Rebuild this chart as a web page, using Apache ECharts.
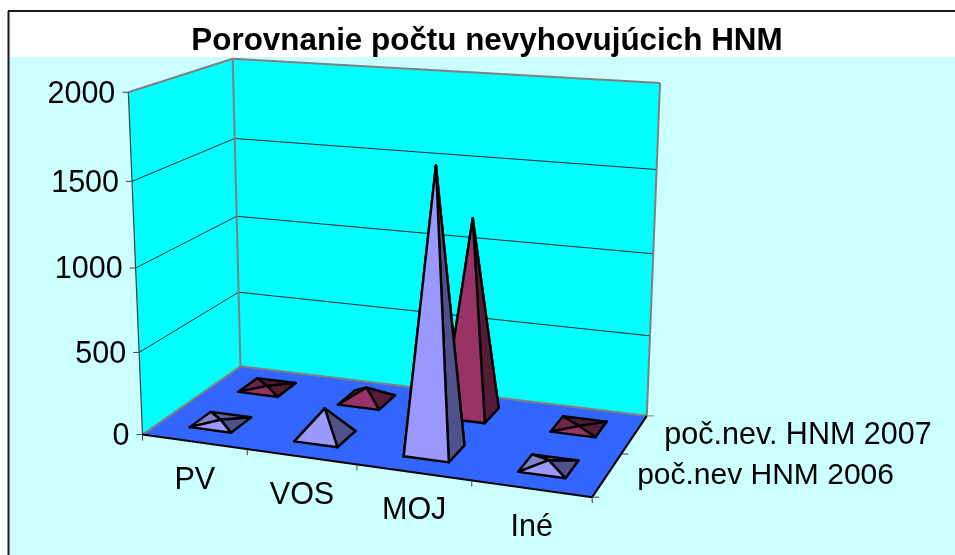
<!DOCTYPE html>
<html><head><meta charset="utf-8">
<style>html,body{margin:0;padding:0;background:#fff}#c{width:955px;height:555px}</style>
<script src="https://cdn.jsdelivr.net/npm/echarts@6/dist/echarts.min.js"></script>
</head><body><div id="c"></div>
<script>
const categories = ['PV','VOS','MOJ','Iné'];
const yTicks = [0,500,1000,1500,2000];
const seriesNames = ['poč.nev HNM 2006','poč.nev. HNM 2007'];
const values2006 = [15,170,1645,35];
const values2007 = [10,80,1200,3];

const FONT = '"Liberation Sans", Arial, sans-serif';
const faces2006 = {back:'#5F5F9F',left:'#8080CC',right:'#50508A',front:'#9999FF'};
const faces2007 = {back:'#4D1A33',left:'#6E2549',right:'#551C38',front:'#993366'};

// Perspective camera fitted to the frame corners: (u along categories, d depth, w value) -> screen
const frameFit = [
 [0,0,0,143,435],[1,0,0,592,497],[1,1,0,647,416],[0,1,0,240,366],
 [0,0,1,128,92],[0,1,1,233,59],[1,1,1,660,83]
];
function solveCamera(){
  const rows=[],rhs=[];
  frameFit.forEach(([u,d,w,sx,sy])=>{
    sx/=1000;sy/=1000;
    rows.push([u,d,w,1,0,0,0,0,-sx*u,-sx*d,-sx*w]);rhs.push(sx);
    rows.push([0,0,0,0,u,d,w,1,-sy*u,-sy*d,-sy*w]);rhs.push(sy);
  });
  const n=11,M=[];
  for(let i=0;i<n;i++){M[i]=[];for(let j=0;j<=n;j++){let s=0;rows.forEach((r,k)=>{s+=r[i]*(j<n?r[j]:rhs[k]);});M[i][j]=s;}}
  for(let i=0;i<n;i++){
    let p=i;for(let k=i+1;k<n;k++)if(Math.abs(M[k][i])>Math.abs(M[p][i]))p=k;
    [M[i],M[p]]=[M[p],M[i]];
    for(let k=0;k<n;k++){if(k===i)continue;const f=M[k][i]/M[i][i];for(let j=i;j<=n;j++)M[k][j]-=f*M[i][j];}
  }
  return M.map((r,i)=>r[n]/r[i]);
}
const cam=solveCamera();
function project(u,d,w){
  const q=cam[8]*u+cam[9]*d+cam[10]*w+1;
  return [1000*(cam[0]*u+cam[1]*d+cam[2]*w+cam[3])/q,1000*(cam[4]*u+cam[5]*d+cam[6]*w+cam[7])/q];
}
// normalise library coordinates to the unit box
function norm(params,api,cat,val){
  const c=api.coord([cat,val]),s=params.coordSys;
  return [(c[0]-s.x)/s.width,(s.y+s.height-c[1])/s.height];
}
function poly(pts,fill,stroke,lw){return {type:'polygon',shape:{points:pts},style:{fill:fill||'none',stroke:stroke||'none',lineWidth:lw||0,lineJoin:'round'}};}
function line(a,b,stroke,lw){return {type:'line',shape:{x1:a[0],y1:a[1],x2:b[0],y2:b[1]},style:{stroke:stroke,lineWidth:lw}};}
function text(x,y,t,align,size){return {type:'text',x:x,y:y,style:{text:t,fill:'#000',font:size+'px '+FONT,textAlign:align,textVerticalAlign:'middle'}};}

function renderFrame(params,api){
  const ch=[];
  const P=project;
  ch.push(poly([P(0,0,0),P(0,1,0),P(0,1,1),P(0,0,1)],'#00FFFF'));
  ch.push(poly([P(0,1,0),P(1,1,0),P(1,1,1),P(0,1,1)],'#00FFFF'));
  yTicks.forEach(v=>{
    const w=norm(params,api,0,v)[1];
    if(v>0&&v<2000){
      ch.push(line(P(0,0,w),P(0,1,w),'#0A2A2A',1));
      ch.push(line(P(0,1,w),P(1,1,w),'#0A2A2A',1));
    }
    const a=P(0,0,w);
    ch.push(line([a[0]-6,a[1]],a,'#404040',1));
    ch.push(text(a[0]-13,a[1]+2,String(v),'right',30.5));
  });
  ch.push(poly([P(0,0,0),P(1,0,0),P(1,1,0),P(0,1,0)],'#3366FF'));
  const gray='#808080';
  ch.push(line(P(0,0,1),P(0,1,1),gray,2));
  ch.push(line(P(0,1,1),P(1,1,1),gray,2));
  ch.push(line(P(0,1,0),P(0,1,1),gray,2));
  ch.push(line(P(1,1,0),P(1,1,1),gray,2));
  ch.push(line(P(0,0,0),P(0,1,0),gray,2));
  ch.push(line(P(0,1,0),P(1,1,0),gray,2));
  ch.push(line(P(0,0,0),P(0,0,1),'#404040',1.2));
  ch.push(line(P(0,0,0),P(1,0,0),'#000',2));
  ch.push(line(P(1,0,0),P(1,1,0),'#000',2));
  for(let i=0;i<=categories.length;i++){
    const a=P(i/categories.length,0,0);
    ch.push(line(a,[a[0],a[1]+6],'#404040',1));
  }
  [0,.5,1].forEach(d=>{const a=P(1,d,0);ch.push(line(a,[a[0]+7,a[1]],d===1?gray:'#404040',1));});
  categories.forEach((c,i)=>{
    const a=P(norm(params,api,i,0)[0],0,0);
    ch.push(text(a[0]+0.5,a[1]+38.5,c,'center',30.5));
  });
  seriesNames.forEach((n,i)=>{
    const a=P(1,i===0?.25:.75,0);
    ch.push(text(a[0]+30,a[1]+1,n,'left',i===0?30:30.5));
  });
  return {type:'group',children:ch};
}
function pyramidRenderer(depth,faces){
  return function(params,api){
    const cat=api.value(0),val=api.value(1);
    const [u,w]=norm(params,api,cat,val);
    const hu=.40/categories.length/2,hd=.105;
    const P=project;
    const fl=P(u-hu,depth-hd,0),fr=P(u+hu,depth-hd,0),br=P(u+hu,depth+hd,0),bl=P(u-hu,depth+hd,0),top=P(u,depth,w);
    const k='#000',lw=2.4;
    return {type:'group',children:[
      poly([bl,br,top],faces.back,k,lw),
      poly([fl,bl,top],faces.left,k,lw),
      poly([fr,br,top],faces.right,k,lw),
      poly([fl,fr,top],faces.front,k,lw)
    ]};
  };
}
const chart=echarts.init(document.getElementById('c'),null,{renderer:'canvas'});
chart.setOption({
  animation:false,
  backgroundColor:'#fff',
  title:{text:'Porovnanie počtu nevyhovujúcich HNM',left:482,top:21,textAlign:'center',
    textStyle:{fontFamily:FONT,fontWeight:'bold',fontSize:31.4,color:'#000'}},
  grid:{left:100,right:100,top:100,bottom:100},
  xAxis:{type:'category',data:categories,show:false},
  yAxis:{type:'value',min:0,max:2000,interval:500,show:false},
  graphic:[
    {type:'rect',z:-10,shape:{x:9,y:57,width:946,height:498},style:{fill:'#CCFFFF'}},
    {type:'line',z:-9,shape:{x1:8,y1:11,x2:955,y2:11},style:{stroke:'#1a1a1a',lineWidth:2}},
    {type:'line',z:-9,shape:{x1:8.5,y1:11,x2:8.5,y2:555},style:{stroke:'#1a1a1a',lineWidth:2}}
  ],
  series:[
    {type:'custom',name:'frame',coordinateSystem:'cartesian2d',silent:true,clip:false,z:1,data:[[0,0]],renderItem:renderFrame},
    {type:'custom',name:seriesNames[1],coordinateSystem:'cartesian2d',silent:true,clip:false,z:2,
      data:values2007.map((v,i)=>[i,v]),renderItem:pyramidRenderer(.76,faces2007)},
    {type:'custom',name:seriesNames[0],coordinateSystem:'cartesian2d',silent:true,clip:false,z:3,
      data:values2006.map((v,i)=>[i,v]),renderItem:pyramidRenderer(.26,faces2006)}
  ]
});
</script></body></html>
